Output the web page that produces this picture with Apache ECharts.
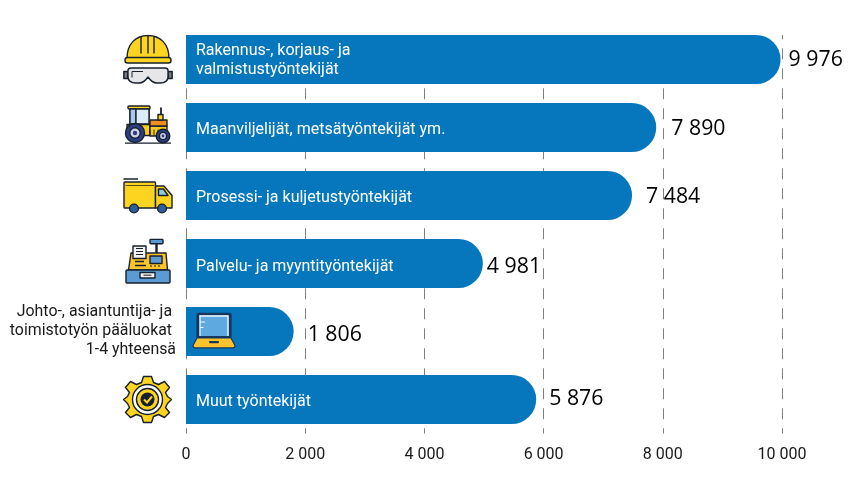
<!DOCTYPE html>
<html>
<head>
<meta charset="utf-8">
<style>
html, body { margin: 0; padding: 0; background: #fff; }
#chart { width: 856px; height: 478px; }
</style>
<script src="https://cdn.jsdelivr.net/npm/echarts@6/dist/echarts.min.js"></script>
</head>
<body>
<div id="chart"></div>
<script>
var categories = [
	'Rakennus-, korjaus- ja\nvalmistustyöntekijät',
	'Maanviljelijät, metsätyöntekijät ym.',
	'Prosessi- ja kuljetustyöntekijät',
	'Palvelu- ja myyntityöntekijät',
	'Johto-, asiantuntija- ja \ntoimistotyön pääluokat \n1-4 yhteensä',
	'Muut työntekijät'
];
var values = [9976, 7890, 7484, 4981, 1806, 5876];
var tickValues = [0, 2000, 4000, 6000, 8000, 10000];

// rivi 5:n nimi on akselilla, muut palkin sisällä
var axisLabelRow = 4;
// arvotekstien siirrot palkin päästä [x, y]
var valueLabelShift = [[8, 0], [15, 1], [14, 1], [4, 3], [14, 3], [13, -1]];
// palkin sisäisten nimien y-siirto
var innerLabelShift = [1, 2, 2, 3, 0, 2];
// kuvakkeiden x-siirto nollasta, kuva on 50x50 rivin keskellä
var iconShift = [-63, -63, -63, -63, 3, -63.5];

// katkoviiva alkaa vasta y=35, sitten 11 viiva / 9 väli
var gridDash = [0, 9.5, 4.3, 9];
for (var d = 0; d < 20; d++) {
	gridDash.push(11, 9);
}

function svgUri(body) {
	return 'data:image/svg+xml;charset=utf-8,' + encodeURIComponent(
		'<svg xmlns="http://www.w3.org/2000/svg" viewBox="0 0 50 50" width="200" height="200">' + body + '</svg>');
}

var ink = '#17202e';
var line = 'stroke="' + ink + '" stroke-width="1.4" stroke-linejoin="round"';
var icons = [
	// kypärä ja suojalasit
	svgUri('<path d="M4 24 C4 9 13 1 25 1 C37 1 46 9 46 24 Z" fill="#fdd41f" ' + line + '/>' +
		'<rect x="2" y="23" width="46" height="5.5" rx="2.5" fill="#fdd41f" ' + line + '/>' +
		'<path d="M18 2 V19 M25 1 V19 M31 2 V19" fill="none" ' + line + '/>' +
		'<rect x="0.8" y="37" width="4" height="7" fill="#777" ' + line + '/><rect x="45.2" y="37" width="4" height="7" fill="#777" ' + line + '/>' +
		'<path d="M5 36 Q5 33.5 8 33.5 H42 Q45 33.5 45 36 V42 Q45 48.5 37 48.5 H34 Q29 48.5 25 42.5 Q21 48.5 16 48.5 H13 Q5 48.5 5 42 Z" fill="#e6e6e8" ' + line + '/>' +
		'<path d="M9 43 V37 H20" fill="none" stroke="' + ink + '" stroke-width="1"/>'),
	// traktori
	svgUri('<path d="M7 6 V23 M26 6 V23" fill="none" ' + line + '/>' +
		'<rect x="5" y="3.5" width="22" height="3" rx="1" fill="#fdd41f" ' + line + '/>' +
		'<rect x="7" y="6.5" width="6" height="15" fill="#a9c8ec" ' + line + '/><rect x="13" y="6.5" width="13" height="15" fill="#dcebf8" ' + line + '/>' +
		'<path d="M4 22 H27 V33 H4 Z" fill="#fdc81f" ' + line + '/>' +
		'<rect x="27" y="23.5" width="17" height="10" fill="#fdc81f" ' + line + '/>' +
		'<path d="M27 23.5 V17.5 H44 V23.5 Z" fill="#f58a1f" ' + line + '/>' +
		'<path d="M38 17.5 V5" fill="none" stroke="' + ink + '" stroke-width="1.8"/>' +
		'<rect x="35" y="12" width="5" height="5.5" fill="#fdd41f" ' + line + '/>' +
		'<path d="M27 27 V33 M31 27 V33 M35 27 V33" stroke="' + ink + '" stroke-width="0.9"/>' +
		'<circle cx="12" cy="30.5" r="9.5" fill="#2c3f85" ' + line + '/><circle cx="12" cy="30.5" r="5.2" fill="#cfd4e4" ' + line + '/><circle cx="12" cy="30.5" r="2.2" fill="#2c3f85"/>' +
		'<circle cx="40" cy="33.5" r="6.8" fill="#2c3f85" ' + line + '/><circle cx="40" cy="33.5" r="3.6" fill="#cfd4e4" ' + line + '/><circle cx="40" cy="33.5" r="1.4" fill="#2c3f85"/>' +
		'<path d="M2 40.6 H48" stroke="' + ink + '" stroke-width="1.2"/>'),
	// kuorma-auto
	svgUri('<path d="M0.5 8.5 H15" stroke="' + ink + '" stroke-width="1.5"/>' +
		'<rect x="1" y="11.5" width="31.5" height="26" rx="0.8" fill="#fdd41f" ' + line + '/>' +
		'<path d="M2.5 15 H31" stroke="#5c4a08" stroke-width="1.2"/>' +
		'<path d="M32.5 15.5 H41 L49 25 V37.5 H32.5 Z" fill="#fdd41f" ' + line + '/>' +
		'<path d="M35.5 18.5 H40.5 L45 25 H35.5 Z" fill="#8fcad6" ' + line + '/>' +
		'<circle cx="11" cy="38" r="4.4" fill="#2c5f9e" ' + line + '/><circle cx="39" cy="38" r="4.4" fill="#2c5f9e" ' + line + '/>'),
	// kassakone
	svgUri('<rect x="27" y="0.8" width="13" height="4.5" rx="1" fill="#5b9bd5" ' + line + '/><path d="M33.5 5.3 V14.5" stroke="' + ink + '" stroke-width="2.4"/>' +
		'<path d="M8 14.5 H43 L44.5 31.5 H5.5 Z" fill="#fcc32c" ' + line + '/>' +
		'<path d="M10 7.5 H23 V20 H10 Z" fill="#f2f2f2" ' + line + '/>' +
		'<path d="M13 10 H20 M13 13 H20 M13 16 H20" stroke="' + ink + '" stroke-width="1"/>' +
		'<rect x="27" y="17.5" width="12" height="7.5" fill="#5b9bd5" ' + line + '/>' +
		'<path d="M28 28.5 V26.5 M32 28.5 V26.5 M36 28.5 V26.5" stroke="' + ink + '" stroke-width="1"/>' +
		'<path d="M12 23 H21 M12 27 H23" stroke="' + ink + '" stroke-width="1.4"/>' +
		'<rect x="3" y="31.5" width="44" height="13" rx="1" fill="#5b9bd5" ' + line + '/>' +
		'<rect x="17" y="34" width="15" height="5.5" fill="#f2f2f2" ' + line + '/>' +
		'<path d="M20.5 36.7 H28.5" stroke="' + ink + '" stroke-width="1"/>'),
	// kannettava
	svgUri('<rect x="8" y="6.8" width="34" height="25" rx="1.5" fill="#16375e" stroke="#16375e" stroke-width="1.2"/>' +
		'<rect x="10.5" y="9" width="29" height="20.5" fill="#5ea9e0"/>' +
		'<path d="M10.5 9.5 H39 V29.5" fill="none" stroke="#f3f8fc" stroke-width="1.4"/>' +
		'<path d="M11 9 V29.5 M11 15.5 H16 M11 21 H14.5" fill="none" stroke="#f3f8fc" stroke-width="1.2"/>' +
		'<path d="M8 31.5 H42 L46 39 Q46 41.4 44 41.4 H6 Q4 41.4 4 39 Z" fill="#fcc32c" stroke="#16375e" stroke-width="1.2" stroke-linejoin="round"/>' +
		'<rect x="20" y="34.5" width="10" height="2.2" rx="1" fill="#16375e"/>'),
	// hammaspyörä
	svgUri('<path d="M21 2 H29 L31 8 L36 10 L42 7 L47 13 L43 18 L45 22 L49 25 L45 29 L43 33 L47 38 L42 43 L36 40 L31 42 L29 48 H21 L19 42 L14 40 L8 43 L3 38 L7 33 L5 29 L1 25 L5 22 L7 18 L3 13 L8 7 L14 10 L19 8 Z" fill="#fdd41f" ' + line + '/>' +
		'<circle cx="25" cy="25" r="15" fill="#fff" ' + line + '/><circle cx="25" cy="25" r="11" fill="#fdd41f" ' + line + '/>' +
		'<circle cx="25" cy="25" r="7" fill="' + ink + '"/>' +
		'<path d="M21.5 25 L24.5 28 L29.5 22" fill="none" stroke="#fdd41f" stroke-width="2"/>')
];

function fmtNumber(v) {
	return String(v).replace(/\B(?=(\d{3})+$)/g, ' ');
}

var myChart = echarts.init(document.querySelector('#chart'));
var option = {
	animation: false,
	backgroundColor: '#fff',
	textStyle: { fontFamily: 'Roboto' },
	grid: { left: 186, width: 596, top: 25.5, height: 408 },
	xAxis: {
		type: 'value',
		min: 0,
		max: 10000,
		interval: 2000,
		axisLine: { show: false },
		axisTick: { show: false },
		axisLabel: {
			color: '#1a1a1a',
			fontSize: 16,
			margin: 13,
			customValues: tickValues,
			formatter: fmtNumber
		},
		splitLine: {
			show: true,
			lineStyle: { color: '#7f7f7f', width: 1, type: gridDash }
		}
	},
	yAxis: {
		type: 'category',
		inverse: true,
		data: categories,
		axisLine: { show: false },
		axisTick: { show: false },
		splitLine: { show: false },
		axisLabel: {
			color: '#1a1a1a',
			fontSize: 15.9,
			lineHeight: 19,
			margin: 10,
			padding: [6, 0, 0, 0],
			interval: 0,
			align: 'right',
			formatter: function(v, i) {
				return i === axisLabelRow ? v : '';
			}
		}
	},
	series: [{
		name: 'Työntekijät',
		type: 'bar',
		barWidth: 49,
		z: 2,
		itemStyle: { color: '#0777bd', borderRadius: [0, 24.5, 24.5, 0] },
		data: values.map(function(v, i) {
			return {
				value: v,
				label: {
					show: true,
					position: 'right',
					distance: 0,
					offset: valueLabelShift[i],
					fontFamily: 'Open Sans',
					fontSize: 21.3,
					color: '#000',
					formatter: function(p) {
						return fmtNumber(p.value);
					}
				}
			};
		})
	}, {
		// palkin sisäiset nimet
		type: 'bar',
		barWidth: 49,
		barGap: '-100%',
		z: 3,
		silent: true,
		itemStyle: { color: 'transparent' },
		data: values.map(function(v, i) {
			return {
				value: v,
				label: {
					show: true,
					position: 'insideLeft',
					distance: 10,
					offset: [0, innerLabelShift[i]],
					color: '#fff',
					fontSize: 16,
					lineHeight: 19,
					formatter: function(p) {
						return p.dataIndex === axisLabelRow ? '' : p.name;
					}
				}
			};
		})
	}, {
		// kuvakkeet
		type: 'custom',
		z: 4,
		silent: true,
		data: values.map(function(v, i) { return [0, i]; }),
		encode: { x: 0, y: 1 },
		renderItem: function(params, api) {
			var p = api.coord([0, api.value(1)]);
			return {
				type: 'image',
				style: {
					image: icons[params.dataIndex],
					x: p[0] + iconShift[params.dataIndex],
					y: p[1] - 25,
					width: 50,
					height: 50
				}
			};
		}
	}]
};
myChart.setOption(option);
window.addEventListener('resize', function() {
	myChart.resize();
});
</script>
</body>
</html>
